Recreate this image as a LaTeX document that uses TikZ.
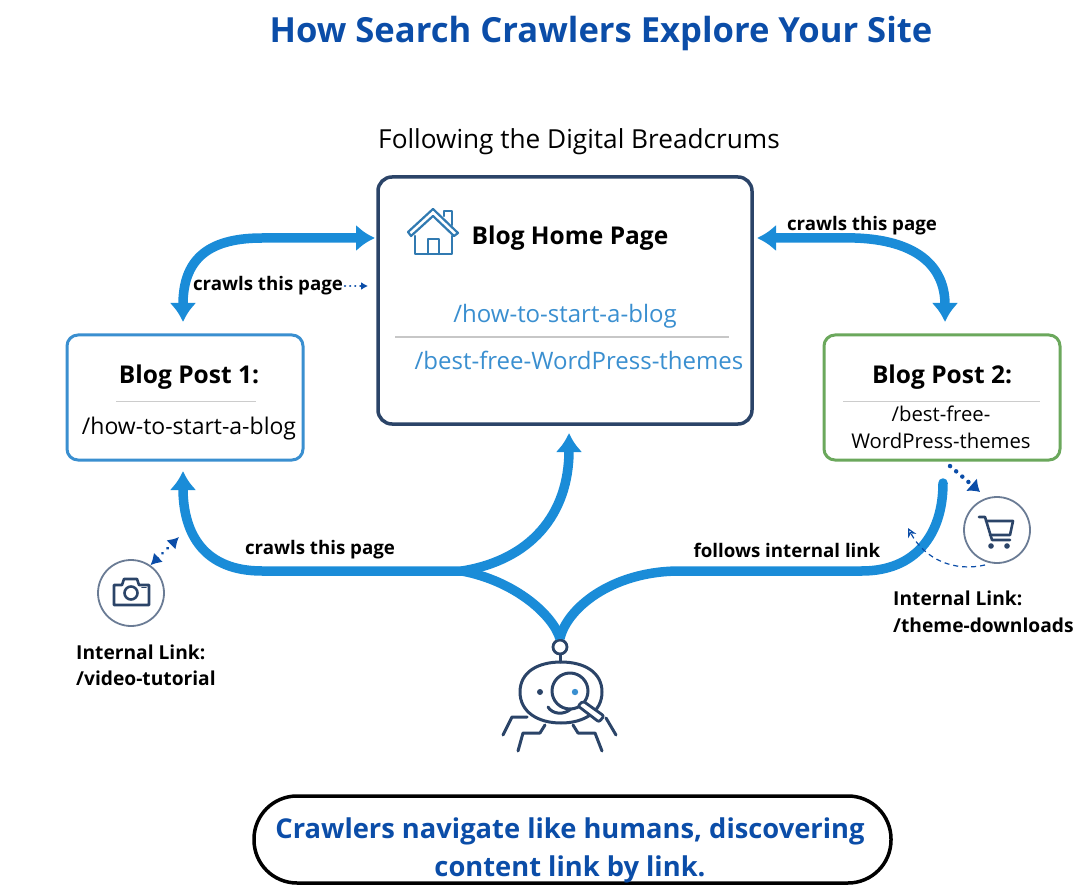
\documentclass[tikz,border=0pt]{standalone}
\usepackage{fontspec}
\setmainfont{Open Sans}
\usetikzlibrary{arrows.meta}
\definecolor{flowblue}{HTML}{1A8CD8}
\definecolor{titleblue}{HTML}{0B4DA8}
\definecolor{linkblue}{HTML}{3A8FD0}
\definecolor{inkblue}{HTML}{2B4468}
\definecolor{postgreen}{HTML}{6BA85C}
\tikzset{
  flow/.style={draw=flowblue,line width=9.5pt,line cap=round},
  pagebox/.style={draw=#1,line width=3pt,rounded corners=11pt,fill=white,inner sep=0pt},
  txt/.style={inner sep=0pt,font=\fontsize{#1}{#1}\selectfont,text=black},
  boldtxt/.style={inner sep=0pt,font=\fontsize{#1}{#1}\selectfont\bfseries,text=black},
  linktxt/.style={inner sep=0pt,font=\fontsize{#1}{#1}\selectfont,text=linkblue},
  bluetxt/.style={inner sep=0pt,font=\fontsize{#1}{38}\selectfont\bfseries,text=titleblue,align=center},
  ring/.style={circle,draw=inkblue!70!white,line width=1.8pt,minimum size=66pt,inner sep=0pt},
  icon/.style={draw=inkblue,line width=2.6pt,line cap=round,line join=round},
  homeicon/.style={draw=linkblue!85!black,line width=2.2pt,line cap=round,line join=round},
  hop/.style={draw=titleblue,line width=3.2pt,dash pattern=on 0.1pt off 7pt,line cap=round},
}
\newcommand{\headtip}{Latex[length=19pt,width=27pt]}
\begin{document}
\begin{tikzpicture}[x=1pt,y=-1pt]
  \useasboundingbox (0,0) rectangle (1089,890);
  % heading
  \node[bluetxt=34.6] (title) at (601,34) {How Search Crawlers Explore Your Site};
  \node[txt=26.2] (subtitle) at (579,142) {Following the Digital Breadcrums};
  % pages
  \node[pagebox=inkblue,line width=3.5pt,rounded corners=14pt,minimum width=374pt,minimum height=247pt] (home) at (565,300.5) {};
  \node[pagebox=linkblue,minimum width=236pt,minimum height=125pt] (post1) at (185,397.5) {};
  \node[pagebox=postgreen,minimum width=236pt,minimum height=125pt] (post2) at (942,397.5) {};
  \node[boldtxt=24.5] (hometxt) at (570,238.5) {Blog Home Page};
  \node[linktxt=24] (homelink1) at (565,316.5) {/how-to-start-a-blog};
  \node[linktxt=24] (homelink2) at (579,360) {/best-free-WordPress-themes};
  \draw[black!22,line width=2pt] (395,337) -- (729,337);
  % house
  \draw[homeicon] (408,232) -- (433,209) -- (458,233) -- (454,236) -- (433,216) -- (411,236) -- cycle;
  \draw[homeicon] (415,236) -- (415,254) -- (452,254) -- (452,236);
  \draw[homeicon] (428,254) -- (428,239) -- (439,239) -- (439,254);
  \draw[homeicon] (444,216) -- (444,211) -- (452,211) -- (452,225);
  \node[boldtxt=24.5] (post1txt) at (189,377) {Blog Post 1:};
  \draw[black!20,line width=1pt] (116,401) -- (256,401);
  \node[txt=23] (post1link) at (189,429) {/how-to-start-a-blog};
  \node[boldtxt=24.5] (post2txt) at (942,377) {Blog Post 2:};
  \draw[black!20,line width=1pt] (843,401) -- (1040,401);
  \node[txt=20.3,align=center] (post2link) at (941,427) {/best-free-\\[6.7pt]WordPress-themes};
  % crawler
  \node[circle,draw=inkblue,line width=2.8pt,minimum size=14pt,inner sep=0pt] (antenna) at (560,647) {};
  \draw[icon,line width=3pt] (520,692) .. controls (520,672) and (538,662) .. (561,662) .. controls (584,662) and (602,672) .. (602,692) .. controls (602,712) and (584,723) .. (561,723) .. controls (538,723) and (520,712) .. (520,692) -- cycle;
  \draw[icon,line width=3pt] (antenna) -- (560,662);
  \draw[fill=inkblue,draw=none] (540,692) circle (3);
  \draw[icon,line width=3pt] (548,707) .. controls (552,714) and (564,716) .. (572,708);
  \draw[icon,line width=3pt,fill=white] (570,691) circle (18);
  \draw[fill=linkblue,draw=none] (575,692) circle (3.2);
  \draw[icon,line width=2.8pt,fill=white,rounded corners=2pt] (583,701) -- (604,716) -- (599,722) -- (578,706) -- cycle;
  \draw[icon,line width=3pt] (527,717) -- (512,717) -- (503,735);
  \draw[icon,line width=3pt] (545,725) -- (540,733) -- (523,733) -- (518,751);
  \draw[icon,line width=3pt] (573,725) -- (578,733) -- (595,733) -- (602,751);
  \draw[icon,line width=3pt] (606,718) -- (616,735);
  % flows
  \coordinate (homeL) at (375,238);
  \coordinate (homeR) at (757,238);
  \coordinate (post1top) at (183,322);
  \coordinate (post2top) at (945,322);
  \coordinate (post1low) at (183,471);
  \coordinate (homelow) at (569,433);
  \coordinate (hub) at (462,571);
  \coordinate (post2low) at (943,483);
  \draw[flow,arrows={\headtip[]-\headtip[]}] (post1top) .. controls (183,262) and (205,238) .. (262,238) -- (homeL);
  \draw[flow,arrows={\headtip[]-\headtip[]}] (homeR) -- (855,238) .. controls (915,240) and (945,265) .. (post2top);
  \draw[flow,arrows={-\headtip[]}] (hub) -- (262,571) .. controls (205,571) and (183,535) .. (post1low);
  \draw[flow,arrows={-\headtip[]}] (hub) .. controls (530,560) and (569,515) .. (homelow);
  \draw[flow,line cap=butt] (antenna.north) .. controls (553,615) and (515,581) .. (hub);
  \draw[flow,line cap=butt] (antenna.north) .. controls (566,610) and (610,571) .. (680,571) -- (862,571);
  \draw[flow] (862,571) .. controls (915,571) and (943,535) .. (post2low);
  % side icons
  \node[ring] (camring) at (131,593) {};
  \node[ring] (cartring) at (997,530) {};
  \draw[icon] (114,585) -- (122,585) -- (124,579) -- (137,579) -- (139,585) -- (149,585) -- (149,605) -- (114,605) -- cycle;
  \draw[icon] (131,593) circle (6.5);
  \draw[icon,line width=1.6pt] (142,587.5) -- (146,587.5);
  \draw[icon] (979,517) -- (985,517) -- (992,540) -- (1010,540);
  \draw[icon] (986,521) -- (1013,521) -- (1010,535) -- (990,535);
  \draw[fill=inkblue,draw=none] (991,546) circle (2.8);
  \draw[fill=inkblue,draw=none] (1007,546) circle (2.8);
  % small hops
  \coordinate (crawlend) at (368,286);
  \coordinate (camhop) at (179,537);
  \coordinate (carthop) at (950,466);
  \coordinate (dashstart) at (985,565);
  \coordinate (dashend) at (908,528);
  \draw[hop,arrows={Latex[length=11pt,width=13pt]-Latex[length=11pt,width=13pt]}] (camring.55) -- (camhop);
  \draw[hop,line width=4.4pt,dash pattern=on 0.1pt off 8pt,arrows={-Latex[length=11pt,width=17pt]}] (carthop) -- (980,492);
  \draw[hop,line width=2.4pt,dash pattern=on 0.1pt off 5pt,arrows={-Latex[length=7pt,width=8pt]}] (345,286) -- (crawlend);
  \draw[draw=titleblue,line width=1.2pt,dash pattern=on 5pt off 4pt,arrows={-{Stealth[open,length=9pt,width=9pt]}}] (dashstart) .. controls (955,572) and (925,560) .. (dashend);
  % labels
  \node[boldtxt=18.7] (lblpost1) at (268,286) {crawls this page};
  \node[boldtxt=18.7] (lblpost2) at (862,226) {crawls this page};
  \node[boldtxt=18.7] (lblhub) at (320,550) {crawls this page};
  \node[boldtxt=18.7] (lblfollow) at (787,550) {follows internal link};
  \node[boldtxt=19.2,anchor=north west,align=left] (lblvideo) at (76,645) {Internal Link:\\[6.8pt]/video-tutorial};
  \node[boldtxt=19.2,anchor=north west,align=left] (lblcart) at (893,591) {Internal Link:\\[7.8pt]/theme-downloads};
  % closing line
  \node[draw=black,line width=3.5pt,rounded corners=43pt,minimum width=637pt,minimum height=87pt,inner sep=0pt] (pill) at (572.5,839.5) {};
  \node[bluetxt=27.3] (closing) at (570,850) {Crawlers navigate like humans, discovering\\content link by link.};
\end{tikzpicture}
\end{document}
